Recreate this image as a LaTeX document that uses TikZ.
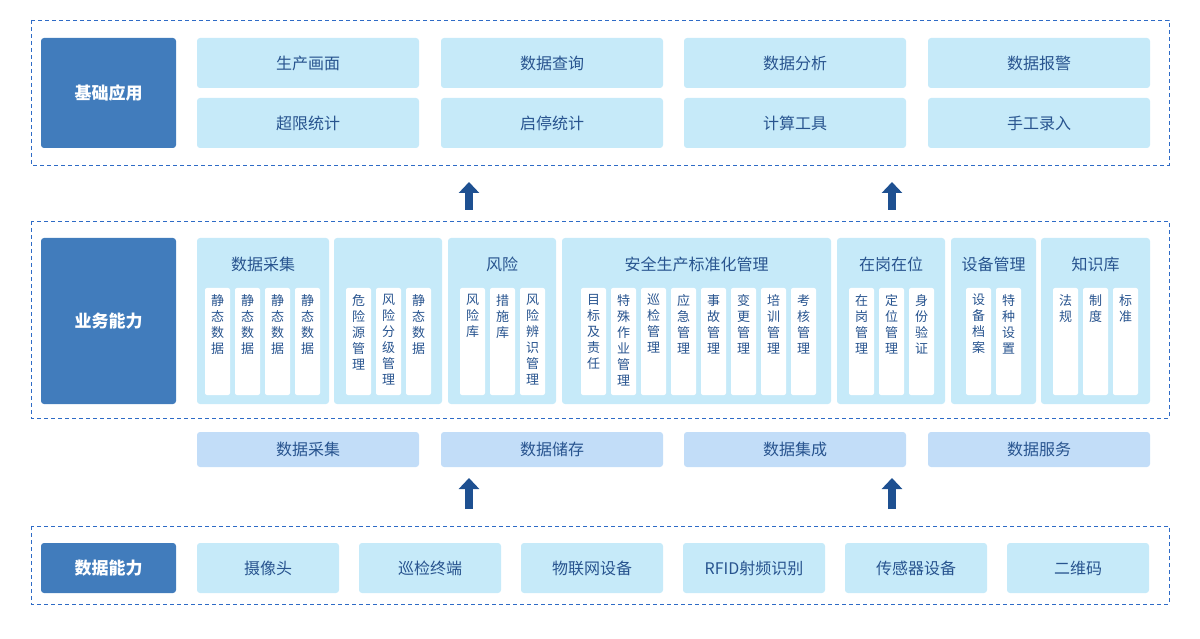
\documentclass[tikz,border=0pt]{standalone}
\usepackage{fontspec}
\setmainfont{Noto Sans CJK SC}
\usetikzlibrary{arrows.meta}

\definecolor{darkbox}{HTML}{417CBC}
\definecolor{lightcell}{HTML}{C6EAF9}
\definecolor{barcell}{HTML}{C2DDF8}
\definecolor{labeltext}{HTML}{28548F}
\definecolor{arrowblue}{HTML}{1E5091}
\definecolor{dashblue}{HTML}{2E6BC6}

\begin{document}
\begin{tikzpicture}[x=1pt, y=-1pt,
		layer/.style={draw=dashblue, line width=0.9pt, dash pattern=on 4pt off 3pt},
		headbox/.style={fill=darkbox, rounded corners=3pt, text=white, anchor=north west,
			inner sep=0pt, outer sep=0pt, font=\fontsize{17}{20}\selectfont\bfseries, minimum width=135},
		cellbox/.style={fill=lightcell, rounded corners=3pt, text=labeltext, anchor=north west,
			inner sep=0pt, outer sep=0pt, font=\fontsize{16}{19}\selectfont},
		barbox/.style={cellbox, fill=barcell},
		subbox/.style={fill=white, rounded corners=2pt, anchor=north west, inner sep=0pt,
			outer sep=0pt, minimum width=25, minimum height=107},
		subtext/.style={text=labeltext, anchor=north, inner sep=0pt, align=center,
			font=\fontsize{13}{16}\selectfont},
		uparrow/.style={arrowblue, line width=7.5pt, -{Triangle[width=20pt,length=11pt]}}]
		\useasboundingbox (0,0) rectangle (1200,639);
		\def\myApps{197/生产画面/超限统计, 441/数据查询/启停统计, 684/数据分析/计算工具, 928/数据报警/手工录入}
		\def\myServices{197/数据采集, 441/数据储存, 684/数据集成, 928/数据服务}
		\def\myDevices{摄像头, 巡检终端, 物联网设备, RFID射频识别, 传感器设备, 二维码}
		\def\myGroups{197/132/205/数据采集/{静\\态\\数\\据, 静\\态\\数\\据, 静\\态\\数\\据, 静\\态\\数\\据},
			334/108/346//{危\\险\\源\\管\\理, 风\\险\\分\\级\\管\\理, 静\\态\\数\\据},
			448/108/460/风险/{风\\险\\库, 措\\施\\库, 风\\险\\辨\\识\\管\\理},
			562/269/581/安全生产标准化管理/{目\\标\\及\\责\\任, 特\\殊\\作\\业\\管\\理, 巡\\检\\管\\理, 应\\急\\管\\理, 事\\故\\管\\理, 变\\更\\管\\理, 培\\训\\管\\理, 考\\核\\管\\理},
			837/108/849/在岗在位/{在\\岗\\管\\理, 定\\位\\管\\理, 身\\份\\验\\证},
			951/85/966/设备管理/{设\\备\\档\\案, 特\\种\\设\\置},
			1041/109/1053/知识库/{法\\规, 制\\度, 标\\准}}
		% layers
		\draw[layer] (31,20) rectangle (1169,165);
		\draw[layer] (31,221) rectangle (1169,418);
		\draw[layer] (31,526) rectangle (1169,604);
		% left headers
		\node[headbox, minimum height=110] (appHead) at (41,38) {基础应用};
		\node[headbox, minimum height=166] (bizHead) at (41,238) {业务能力};
		\node[headbox, minimum height=50] (dataHead) at (41,543) {数据能力};
		% top applications
		\foreach \x/\up/\down [count=\i] in \myApps {
			\node[cellbox, minimum width=222, minimum height=50] (app\i) at (\x,38) {\up};
			\node[cellbox, minimum width=222, minimum height=50] (stat\i) at (\x,98) {\down};
		}
		% business groups
		\foreach \x/\w/\cx/\title/\subs [count=\i] in \myGroups {
			\node[cellbox, minimum width=\w, minimum height=166] (group\i) at (\x,238) {};
			\node[text=labeltext, inner sep=0pt, font=\fontsize{16}{19}\selectfont] (groupTitle\i) at ({\x+\w/2},264) {\title};
			\foreach \s [count=\j] in \subs {
				\node[subbox] (sub\i-\j) at ({\cx+30*(\j-1)},288) {};
				\node[subtext] (subText\i-\j) at ([yshift=-6pt]sub\i-\j.north) {\s};
			}
		}
		% service bar
		\foreach \x/\name [count=\i] in \myServices
		\node[barbox, minimum width=222, minimum height=35] (service\i) at (\x,432) {\name};
		% devices
		\foreach \name [count=\i] in \myDevices
		\node[cellbox, minimum width=142, minimum height=50] (device\i) at ({197+162*(\i-1)},543) {\name};
		% arrows
		\coordinate (lowA) at (469,509);
		\coordinate (lowAtip) at (469,478);
		\coordinate (lowB) at (892,509);
		\coordinate (lowBtip) at (892,478);
		\coordinate (highA) at (469,210);
		\coordinate (highAtip) at (469,182);
		\coordinate (highB) at (892,210);
		\coordinate (highBtip) at (892,182);
		\draw[uparrow] (lowA) -- (lowAtip);
		\draw[uparrow] (lowB) -- (lowBtip);
		\draw[uparrow] (highA) -- (highAtip);
		\draw[uparrow] (highB) -- (highBtip);
	\end{tikzpicture}
\end{document}
